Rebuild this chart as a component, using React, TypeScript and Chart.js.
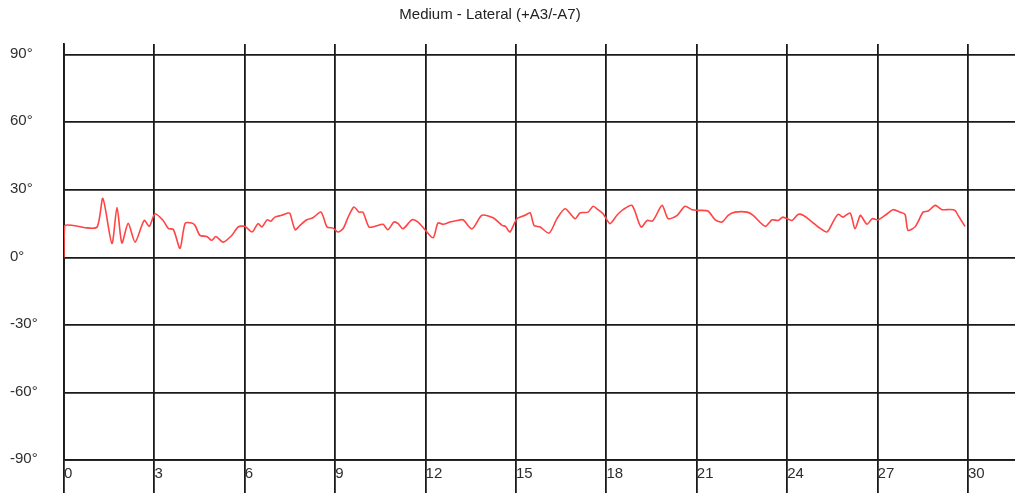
import React, { useEffect, useRef } from "react";
import { Chart, registerables } from "chart.js";

Chart.register(...registerables);

const TITLE = "Medium - Lateral (+A3/-A7)";

const timeSec: number[] = [
  0, 0.02, 0.3, 0.7, 1.1, 1.29, 1.59, 1.76, 1.92, 2.13, 2.36, 2.66, 2.83, 3.02, 3.29, 3.46, 3.63, 3.85,
  4.02, 4.24, 4.35, 4.51, 4.74, 4.9, 5.04, 5.28, 5.57, 5.78, 6.0, 6.24, 6.44, 6.57, 6.74, 6.87, 7.0,
  7.23, 7.43, 7.5, 7.67, 7.83, 8.06, 8.26, 8.53, 8.73, 8.93, 9.09, 9.26, 9.43, 9.62, 9.79, 9.92, 10.12,
  10.32, 10.59, 10.75, 10.95, 11.09, 11.25, 11.55, 11.75, 11.98, 12.25, 12.41, 12.58, 12.81, 13.04,
  13.24, 13.54, 13.87, 14.24, 14.54, 14.65, 14.8, 15.03, 15.3, 15.47, 15.6, 15.8, 16.1, 16.36, 16.63,
  16.96, 17.13, 17.39, 17.56, 17.72, 17.89, 18.12, 18.35, 18.55, 18.85, 19.15, 19.35, 19.52, 19.62,
  19.85, 20.05, 20.35, 20.61, 20.84, 21.04, 21.37, 21.61, 21.84, 22.04, 22.27, 22.67, 22.87, 23.27,
  23.5, 23.7, 23.86, 24.16, 24.36, 24.53, 24.83, 25.03, 25.32, 25.52, 25.69, 25.85, 26.09, 26.25,
  26.42, 26.48, 26.65, 26.82, 27.02, 27.32, 27.51, 27.75, 27.91, 28.01, 28.24, 28.35, 28.51, 28.68,
  28.91, 29.14, 29.41, 29.57, 29.67, 29.9,
];

const angleDeg: number[] = [
  0, 14, 14.2, 13.2, 13.5, 26.2, 6.2, 22.2, 6.4, 15.1, 6.8, 16.4, 13.8, 19.4, 16.4, 12.9, 12.4, 4.0,
  15.1, 15.3, 14.2, 9.8, 9.3, 7.6, 9.3, 6.8, 9.8, 13.5, 13.8, 11.3, 15, 13.5, 16.7, 16.1, 17.9,
  18.7, 19.7, 19.5, 12.3, 14.2, 16.7, 17.6, 20.1, 13.5, 13.0, 11.3, 12.7, 17.9, 22.4, 20.1, 20.1, 13.5,
  13.8, 14.7, 12.3, 15.7, 15.0, 12.7, 16.7, 15.7, 12.3, 8.7, 15.3, 14.7, 15.7, 16.4,
  16.7, 12.7, 18.7, 17.6, 14.2, 13.8, 11.3, 17.2, 18.7, 19.8, 14.2, 13.5, 10.8, 17.2, 21.6,
  17.2, 19.8, 20.1, 22.7, 21.2, 19.4, 15.0, 18.7, 21.2, 23.1, 13.5, 16.4, 16.1, 17.9,
  23.1, 17.2, 18.7, 22.7, 21.2, 20.9, 20.6, 16.7, 15.7, 18.7, 20.1, 20.1, 18.7, 13.8,
  16.7, 16.4, 17.9, 16.4, 19.1, 18.7, 15.7, 13.5, 11.3, 15.7, 19.1, 17.9, 19.7, 12.7,
  18.7, 17.9, 14.7, 17.2, 16.7, 19.4, 21.2, 20.1, 19.1, 12.0, 13.5, 16.0, 20.1, 20.6,
  23.1, 21.2, 21.3, 20.9, 18.7, 13.8,
];

const X_MIN = 0;
const X_MAX = 31.56;
const X_STEP = 3;
const Y_MIN = -90;
const Y_MAX = 94.8;
const Y_STEP = 30;

const GRID_COLOR = "#1a1a1a";
const TEXT_COLOR = "#2e2e2e";
const FONT_FAMILY = "'Liberation Sans', Arial, sans-serif";

const titlePlugin = {
  id: "customTitle",
  afterDraw(chart: any) {
    const { ctx } = chart;
    ctx.save();
    ctx.font = `15px ${FONT_FAMILY}`;
    ctx.fillStyle = "#222222";
    ctx.textAlign = "center";
    ctx.textBaseline = "middle";
    ctx.fillText(TITLE, 490, 15);
    ctx.restore();
  },
};

export default function App() {
  const canvasRef = useRef<HTMLCanvasElement | null>(null);

  useEffect(() => {
    if (!canvasRef.current) return;
    const points = timeSec.map((t, i) => ({ x: t, y: angleDeg[i] }));
    const chart = new Chart(canvasRef.current, {
      type: "line",
      data: {
        datasets: [
          {
            label: "Lateral",
            data: points,
            borderColor: "#ff4444",
            borderWidth: 1.6,
            pointRadius: 0,
            tension: 0.25,
            fill: false,
          },
        ],
      },
      options: {
        animation: false,
        responsive: true,
        maintainAspectRatio: false,
        layout: { padding: { top: 44, left: 10, right: 0, bottom: 0 } },
        plugins: {
          legend: { display: false },
          title: { display: false },
          tooltip: { enabled: false },
        },
        scales: {
          x: {
            type: "linear",
            position: "bottom",
            min: X_MIN,
            max: X_MAX,
            afterFit(scale: any) {
              scale.height = 35;
            },
            ticks: {
              stepSize: X_STEP,
              includeBounds: false,
              align: "start",
              padding: -28,
              labelOffset: 0,
              color: TEXT_COLOR,
              font: { family: FONT_FAMILY, size: 15 },
              maxRotation: 0,
              autoSkip: false,
            },
            grid: {
              color: GRID_COLOR,
              lineWidth: 1.8,
              tickLength: 33,
              tickColor: GRID_COLOR,
              drawTicks: true,
            },
            border: { display: true, color: GRID_COLOR, width: 1.8 },
          },
          y: {
            type: "linear",
            min: Y_MIN,
            max: Y_MAX,
            afterFit(scale: any) {
              scale.width = 54;
            },
            ticks: {
              stepSize: Y_STEP,
              includeBounds: false,
              crossAlign: "far",
              padding: 0,
              labelOffset: -1,
              color: TEXT_COLOR,
              font: { family: FONT_FAMILY, size: 15 },
              callback: (v: any) => `${v}°`,
            },
            grid: {
              color: GRID_COLOR,
              lineWidth: 1.8,
              drawTicks: false,
              tickLength: 0,
            },
            border: { display: true, color: GRID_COLOR, width: 1.8 },
          },
        },
      },
      plugins: [titlePlugin],
    });
    return () => chart.destroy();
  }, []);

  return (
    <div style={{ position: "fixed", left: 0, top: 0, width: 1015, height: 495, background: "#fff" }}>
      <canvas ref={canvasRef} />
    </div>
  );
}
